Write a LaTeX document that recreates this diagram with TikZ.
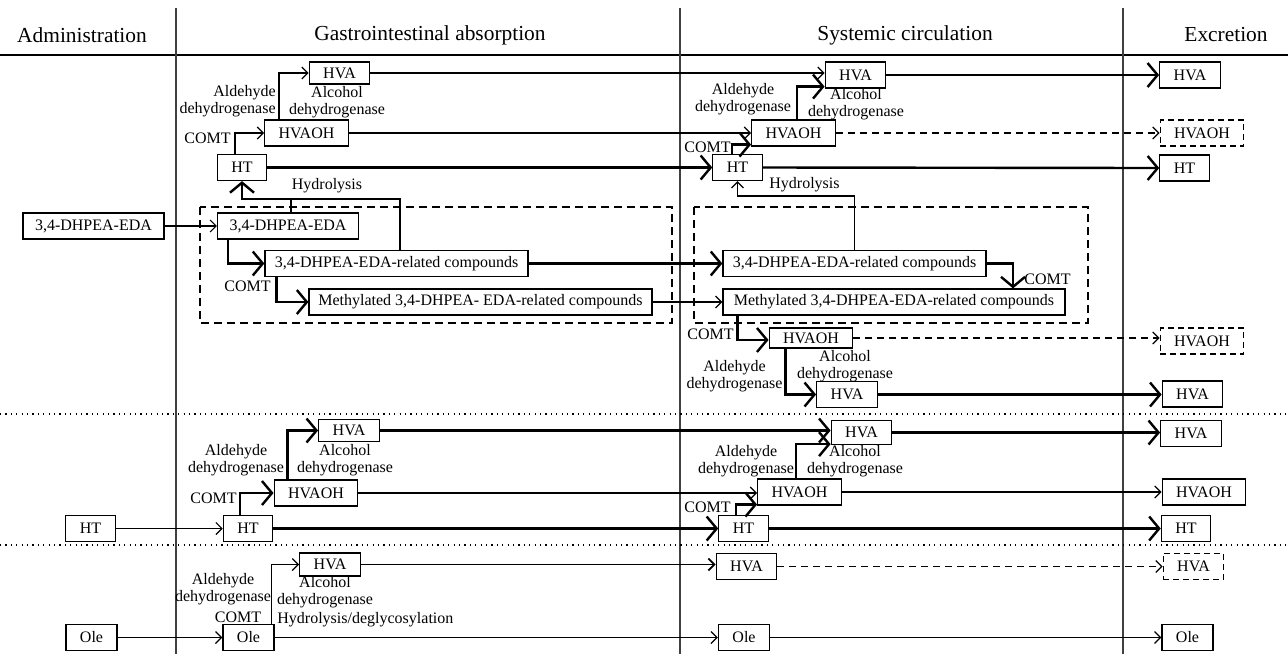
\documentclass[tikz,border=0pt]{standalone}
\usepackage{fontspec}
\setmainfont{Liberation Serif}
\usetikzlibrary{arrows.meta}

\begin{document}
\begin{tikzpicture}[x=0.5pt,y=-0.5pt,
  box/.style={draw,line width=0.6pt,minimum height=13pt,inner xsep=7pt,inner ysep=0pt,font=\fontsize{8}{9}\selectfont},
  dbox/.style={box,dash pattern=on 3pt off 2pt},
  lab/.style={font=\fontsize{8}{8.6}\selectfont,align=center,inner sep=0pt},
  head/.style={font=\fontsize{10.7}{12}\selectfont,inner sep=0pt},
  slim/.style={line width=0.6pt,-{Straight Barb[length=3pt,width=6pt]}},
  heavy/.style={line width=1.2pt,-{Straight Barb[length=5pt,width=12pt]}},
  trace/.style={line width=0.6pt,dash pattern=on 3.5pt off 2.5pt,-{Straight Barb[length=3pt,width=6pt]}},
  group/.style={line width=0.8pt,dash pattern=on 4pt off 2.5pt},
  sep/.style={line width=0.6pt,dash pattern=on 0.6pt off 2.1pt}]
  \useasboundingbox (0,0) rectangle (1288,654);

  \node[head] (hAdm) at (82,35) {Administration};
  \node[head] (hGI) at (430,35) {Gastrointestinal absorption};
  \node[head] (hSC) at (905,35) {Systemic circulation};
  \node[head] (hEx) at (1226,35) {Excretion};
  \draw[line width=0.6pt] (0,55) -- (1288,55);
  \foreach \x in {176,680,1123} \draw[line width=0.6pt,black!75] (\x,8) -- (\x,654);
  \foreach \y in {414,545} \draw[sep] (0,\y) -- (1288,\y);
  \draw[group] (200,207) rectangle (672,323);
  \draw[group] (694,207) rectangle (1088,323);

  \node[box,inner xsep=6pt] (admDHP) at (93.5,226) {3,4-DHPEA-EDA};
  \node[box,minimum height=11pt] (giHVA) at (339.5,73) {HVA};
  \node[box] (giHVAOH) at (306.5,133) {HVAOH};
  \node[box] (giHT) at (242,167.5) {HT};
  \node[box,inner xsep=6pt] (giDHP) at (288,226) {3,4-DHPEA-EDA};
  \node[box,inner xsep=4.9pt] (giRel) at (396.5,263.5) {3,4-DHPEA-EDA-related compounds};
  \node[box,inner xsep=4.65pt] (giMet) at (480.5,302) {Methylated 3,4-DHPEA- EDA-related compounds};
  \node[box] (scHVA) at (855.5,75) {HVA};
  \node[box] (scHVAOH) at (793.5,133) {HVAOH};
  \node[box] (scHT) at (737.5,167.5) {HT};
  \node[box,inner xsep=4.9pt] (scRel) at (854.5,263.5) {3,4-DHPEA-EDA-related compounds};
  \node[box,inner xsep=5.4pt] (scMet) at (894,302) {Methylated 3,4-DHPEA-EDA-related compounds};
  \node[box,minimum height=10pt] (scHVAOH2) at (811,338) {HVAOH};
  \node[box] (scHVA2) at (847,394.5) {HVA};
  \node[box] (excHVA) at (1190,75) {HVA};
  \node[dbox] (excHVAOH) at (1202,133) {HVAOH};
  \node[box] (excHT) at (1184.5,168) {HT};
  \node[dbox] (excHVAOH2) at (1202,341) {HVAOH};
  \node[box] (excHVA2) at (1192.5,394) {HVA};

  \node[box] (admHT) at (90.5,528.5) {HT};
  \node[box] (giHT2) at (248,528.5) {HT};
  \node[box] (giHVAOH2) at (316,493) {HVAOH};
  \node[box,minimum height=11pt] (giHVA2) at (349,430.5) {HVA};
  \node[box] (scHT2) at (743.5,528.5) {HT};
  \node[box] (scHVAOH3) at (799.5,492) {HVAOH};
  \node[box,minimum height=12pt] (scHVA3) at (861.5,432.5) {HVA};
  \node[box] (excHVA3) at (1191,433.5) {HVA};
  \node[box] (excHVAOH3) at (1204,492) {HVAOH};
  \node[box] (excHT2) at (1186,528.5) {HT};

  \node[box] (admOle) at (91.5,637.5) {Ole};
  \node[box] (giOle) at (248.5,637.5) {Ole};
  \node[box,minimum height=11.5pt] (giHVA4) at (330,564.5) {HVA};
  \node[box] (scHVA4) at (746.5,566.5) {HVA};
  \node[box] (scOle) at (744,637.5) {Ole};
  \node[dbox] (excHVA4) at (1193.5,566.5) {HVA};
  \node[box] (excOle) at (1187.5,637.5) {Ole};

  \node[lab,anchor=east,align=right] (aldGI) at (276,101.5) {Aldehyde\\dehydrogenase};
  \node[lab] (alcGI) at (337,102) {Alcohol\\dehydrogenase};
  \node[lab,anchor=east] (comtGI) at (231,138) {COMT};
  \node[lab] (hydGI) at (327,186) {Hydrolysis};
  \node[lab,anchor=east] (comtGIb) at (271,286) {COMT};
  \node[lab] (aldSC) at (743,99) {Aldehyde\\dehydrogenase};
  \node[lab] (alcSC) at (856,104) {Alcohol\\dehydrogenase};
  \node[lab,anchor=east] (comtSC) at (731,147) {COMT};
  \node[lab] (hydSC) at (804.5,185) {Hydrolysis};
  \node[lab,anchor=west] (comtSCb) at (1024,279) {COMT};
  \node[lab,anchor=east] (comtSCc) at (734,334) {COMT};
  \node[lab] (aldSCb) at (734.5,376) {Aldehyde\\dehydrogenase};
  \node[lab] (alcSCb) at (845,366) {Alcohol\\dehydrogenase};

  \node[lab] (aldGIh) at (236,460.5) {Aldehyde\\dehydrogenase};
  \node[lab] (alcGIh) at (345,460.5) {Alcohol\\dehydrogenase};
  \node[lab,anchor=east] (comtGIh) at (237,498) {COMT};
  \node[lab] (aldSCh) at (746,461) {Aldehyde\\dehydrogenase};
  \node[lab] (alcSCh) at (855,461) {Alcohol\\dehydrogenase};
  \node[lab,anchor=east] (comtSCh) at (731,507) {COMT};

  \node[lab] (aldGIo) at (223,589.5) {Aldehyde\\dehydrogenase};
  \node[lab] (alcGIo) at (325,592.5) {Alcohol\\dehydrogenase};
  \node[lab] (comtGIo) at (238,617) {COMT};
  \node[lab,anchor=west] (hydGIo) at (277,620) {Hydrolysis/deglycosylation};

  \draw[slim] (admDHP.east) -- (giDHP.west);
  \draw[slim] ([xshift=-3.5pt]giHT.north) |- (giHVAOH.west);
  \draw[slim] ([xshift=-13.75pt]giHVAOH.north) |- (giHVA.west);
  \draw[heavy] ([xshift=1.75pt]giRel.north) |- (giHT.south |- 0,199) -- (giHT.south);
  \draw[line width=0.6pt] ([xshift=1.5pt]giDHP.north) -- +(0,-14);
  \draw[heavy] ([xshift=5.5pt]giDHP.south west) |- (giRel.west);
  \draw[heavy] ([xshift=6pt]giRel.south west) |- (giMet.west);
  \draw[slim] (giHVA.east) -- (giHVA.east -| scHVA.west);
  \draw[slim] (giHVAOH.east) -- (scHVAOH.west);
  \draw[heavy] (giHT.east) -- (scHT.west);
  \draw[heavy] (giRel.east) -- (scRel.west);
  \draw[slim] (giMet.east) -- (scMet.west);
  \draw[heavy] ([xshift=-2.75pt]scHT.north) |- ([yshift=1pt]scHVAOH.south west);
  \draw[heavy] ([xshift=1.75pt]scHVAOH.north) |- ([yshift=1pt]scHVA.south west);
  \draw[slim] (scRel.north) |- (scHT.south |- 0,196) -- (scHT.south);
  \draw[heavy] (scRel.east) -| ([xshift=59.5pt]scMet.north);
  \draw[heavy] ([xshift=7.5pt]scMet.south west) |- ([yshift=-1pt]scHVAOH2.west);
  \draw[heavy] ([xshift=8.5pt]scHVAOH2.south west) |- (scHVA2.west);
  \draw[heavy] (scHVA.east) -- (excHVA.west);
  \draw[trace] (scHVAOH.east) -- (excHVAOH.west);
  \draw[heavy] (scHT.east) -- (excHT.west);
  \draw[trace] (scHVAOH2.east) -- (scHVAOH2.east -| excHVAOH2.west);
  \draw[heavy] (scHVA2.east) -- (scHVA2.east -| excHVA2.west);

  \draw[slim] (admHT.east) -- (giHT2.west);
  \draw[heavy] ([xshift=-4pt]giHT2.north) |- (giHVAOH2.west);
  \draw[heavy] ([xshift=7pt]giHVAOH2.north west) |- (giHVA2.west);
  \draw[heavy] (giHVA2.east) -- (giHVA2.east -| scHVA3.west);
  \draw[slim] (giHVAOH2.east) -- (giHVAOH2.east -| scHVAOH3.west);
  \draw[heavy] (giHT2.east) -- (scHT2.west);
  \draw[heavy] ([xshift=-3.75pt]scHT2.north) |- ([yshift=0.5pt]scHVAOH3.south west);
  \draw[heavy] ([xshift=-1.75pt]scHVAOH3.north) |- ([yshift=0.5pt]scHVA3.south west);
  \draw[heavy] (scHVA3.east) -- (scHVA3.east -| excHVA3.west);
  \draw[slim] (scHVAOH3.east) -- (excHVAOH3.west);
  \draw[heavy] (scHT2.east) -- (excHT2.west);

  \draw[slim] (admOle.east) -- (giOle.west);
  \draw[slim] ([xshift=-1.5pt]giOle.north east) |- (giHVA4.west);
  \draw[slim,line width=0.9pt] (giHVA4.east) -- (giHVA4.east -| scHVA4.west);
  \draw[slim] (giOle.east) -- (scOle.west);
  \draw[trace] (scHVA4.east) -- (excHVA4.west);
  \draw[slim] (scOle.east) -- (excOle.west);
\end{tikzpicture}
\end{document}
